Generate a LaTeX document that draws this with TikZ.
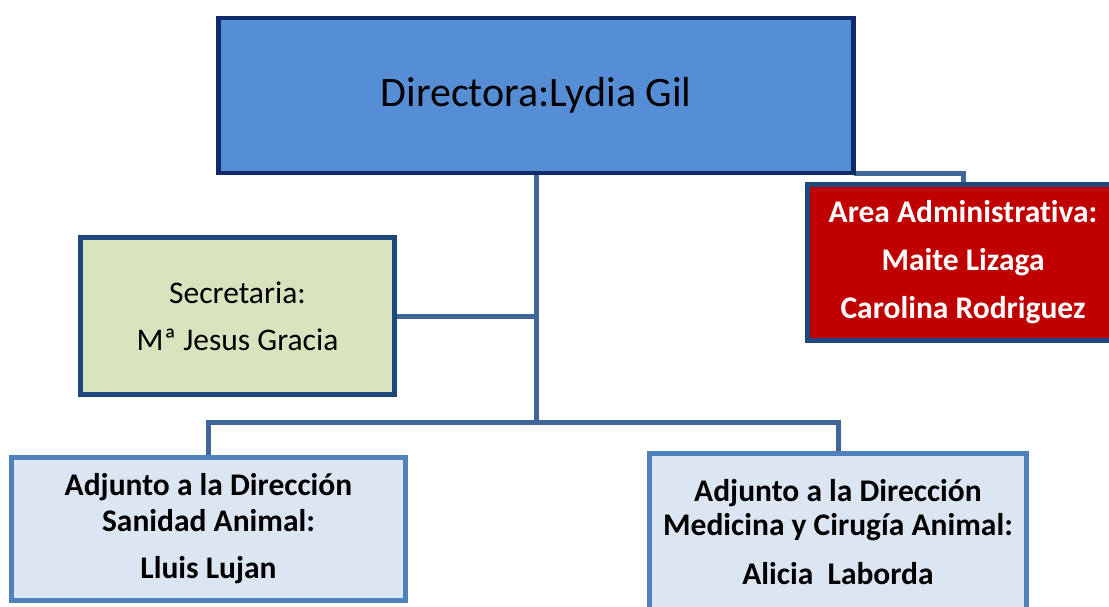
\documentclass[tikz,border=0pt]{standalone}
\usepackage{fontspec}
\setmainfont[Ligatures=CommonOff]{Carlito}
\usetikzlibrary{backgrounds}

\definecolor{dirblue}{HTML}{558ED5}
\definecolor{dirline}{HTML}{0F2A67}
\definecolor{linkblue}{HTML}{41679A}
\definecolor{secgreen}{HTML}{D7E4BD}
\definecolor{darkline}{HTML}{1F497D}
\definecolor{adminred}{HTML}{C00000}
\definecolor{adjfill}{HTML}{DCE6F2}
\definecolor{adjline}{HTML}{4F81BD}

\tikzset{
  caja/.style={draw, line width=4.5pt, inner sep=0pt, outer sep=0pt, align=center},
  enlace/.style={draw=linkblue, line width=5pt},
}

\begin{document}
\begin{tikzpicture}[x=1pt,y=-1pt]
        \useasboundingbox (0,0) rectangle (1109,606);
        \clip (0,0) rectangle (1109,606);

        % Direccion
        \node[caja,draw=dirline,fill=dirblue,minimum width=635pt,minimum height=155pt,
              font=\fontsize{42}{50}\selectfont] (dir) at (536,95.5) {Directora:Lydia Gil};

        % Secretaria
        \node[caja,draw=darkline,fill=secgreen,minimum width=314pt,minimum height=157pt,
              font=\fontsize{31.5}{47}\selectfont] (sec) at (237.5,316) {Secretaria:\\Mª Jesus Gracia};

        % Area administrativa
        \node[caja,draw=darkline,fill=adminred,text=white,minimum width=311pt,minimum height=156pt,
              font=\fontsize{31.5}{48}\selectfont\bfseries] (area) at (963,262.5)
              {Area Administrativa:\\Maite Lizaga\\Carolina Rodriguez};

        % Adjuntos
        \node[caja,draw=adjline,fill=adjfill,minimum width=394pt,minimum height=143pt,
              font=\fontsize{31.5}{36}\selectfont\bfseries] (adjL) at (208.5,529)
              {Adjunto a la Dirección\\Sanidad Animal:\\[11pt]Lluis Lujan};
        \node[caja,draw=adjline,fill=adjfill,minimum width=377pt,minimum height=157pt,
              font=\fontsize{31.5}{34}\selectfont\bfseries] (adjR) at (838,532)
              {Adjunto a la Dirección\\Medicina y Cirugía Animal:\\[15pt]Alicia\ \ Laborda};

        % Enlaces
        \begin{scope}[on background layer]
          \coordinate (nudo) at (536,422);
          \draw[enlace] (dir.south) -- (nudo);
          \draw[enlace] (sec.east) -- (sec.east -| dir.south);
          \draw[enlace] (adjL.north) |- (nudo) -| (adjR.north);
          \draw[enlace] (dir.south east) -| (area.north);
        \end{scope}
\end{tikzpicture}
\end{document}
